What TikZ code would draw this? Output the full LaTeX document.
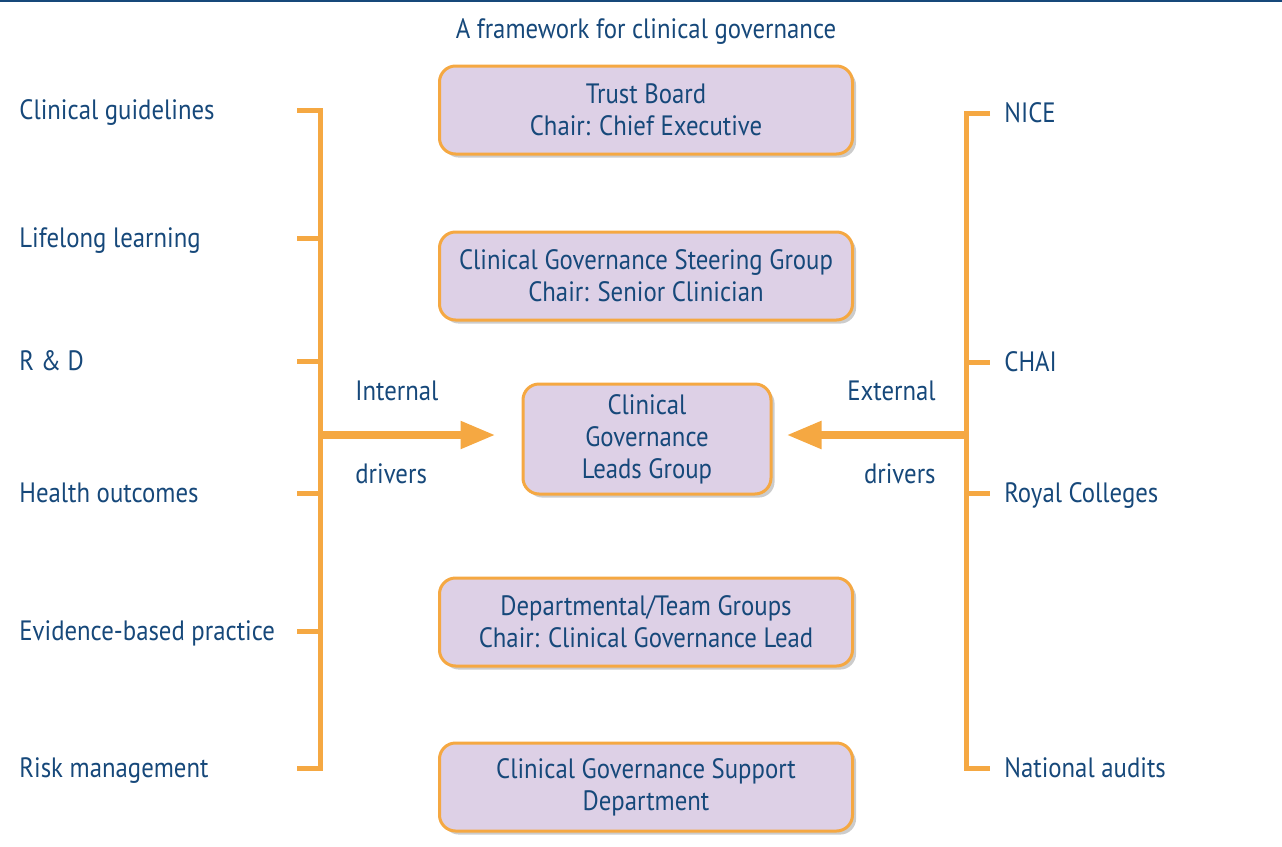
\documentclass[tikz,border=0pt]{standalone}
\usepackage{fontspec}
\setmainfont{PT Sans}[FakeStretch=0.885]
\usepackage{tikz}
\usetikzlibrary{arrows.meta, shadows}

\definecolor{cgblue}{RGB}{22,72,122}
\definecolor{cgorange}{RGB}{245,168,66}
\definecolor{cglilac}{RGB}{221,208,230}

\tikzset{
  group/.style={draw=cgorange, line width=1.5pt, fill=cglilac, rounded corners=8pt,
    align=center, minimum width=206.5pt, minimum height=44pt,
    drop shadow={shadow xshift=1.8pt, shadow yshift=-1.8pt, opacity=0.4}},
  driver/.style={anchor=west, inner sep=0pt, text height=9.8pt, text depth=0pt},
  bracket/.style={cgorange, line width=2.5pt},
  push/.style={cgorange, line width=4pt, -{Triangle[length=17.5pt, width=13pt]}}
}

\begin{document}
\begin{tikzpicture}[x=0.5pt, y=-0.5pt,
  every node/.style={text=cgblue, font=\fontsize{14}{16}\selectfont}]
\useasboundingbox (0,0) rectangle (1282,847);
\draw[cgblue, line width=1pt] (0,1) -- (1282,1);

\node[driver, anchor=center] (title) at (646,29) {A framework for clinical governance};

% the groups, top to bottom
\node[group] (board) at (646,110) {Trust Board\\Chair: Chief Executive};
\node[group] (steer) at (646,276) {Clinical Governance Steering Group\\Chair: Senior Clinician};
\node[group, minimum width=124pt, minimum height=55pt] (lead) at (647,439) {Clinical\\Governance\\Leads Group};
\node[group] (dept) at (646,622) {Departmental/Team Groups\\Chair: Clinical Governance Lead};
\node[group] (support) at (646,787) {Clinical Governance Support\\Department};

% internal drivers
\node[driver] (guide) at (19,110) {Clinical guidelines};
\node[driver] (learn) at (19,238) {Lifelong learning};
\node[driver] (rnd) at (19,361) {R \& D};
\node[driver] (outc) at (19,493) {Health outcomes};
\node[driver] (evid) at (19,631) {Evidence-based practice};
\node[driver] (risk) at (19,768) {Risk management};
\coordinate (lstub) at (297,0);
\coordinate (lbar) at (320,0);
\draw[bracket] (guide -| lstub) -- (guide -| lbar) -- (risk -| lbar) -- (risk -| lstub);
\foreach \d in {learn,rnd,outc,evid}
  \draw[bracket] (\d -| lstub) -- (\d -| lbar);
\node[driver] (intA) at (355,391) {Internal};
\node[driver] (intB) at (355,474) {drivers};
\coordinate (lmid) at (320,435);
\draw[push] (lmid) -- ([xshift=-13pt]lead.west |- lmid);

% external drivers
\node[driver] (nice) at (1004,113) {NICE};
\node[driver] (chai) at (1004,362) {CHAI};
\node[driver] (royal) at (1004,493) {Royal Colleges};
\node[driver] (audit) at (1004,768) {National audits};
\coordinate (rbar) at (966,0);
\coordinate (rstub) at (990,0);
\draw[bracket] (nice -| rstub) -- (nice -| rbar) -- (audit -| rbar) -- (audit -| rstub);
\foreach \d in {chai,royal}
  \draw[bracket] (\d -| rbar) -- (\d -| rstub);
\node[driver, anchor=east] (extA) at (936,391) {External};
\node[driver, anchor=east] (extB) at (936,474) {drivers};
\coordinate (rmid) at (966,435);
\draw[push] (rmid) -- ([xshift=7pt]lead.east |- rmid);
\end{tikzpicture}
\end{document}
